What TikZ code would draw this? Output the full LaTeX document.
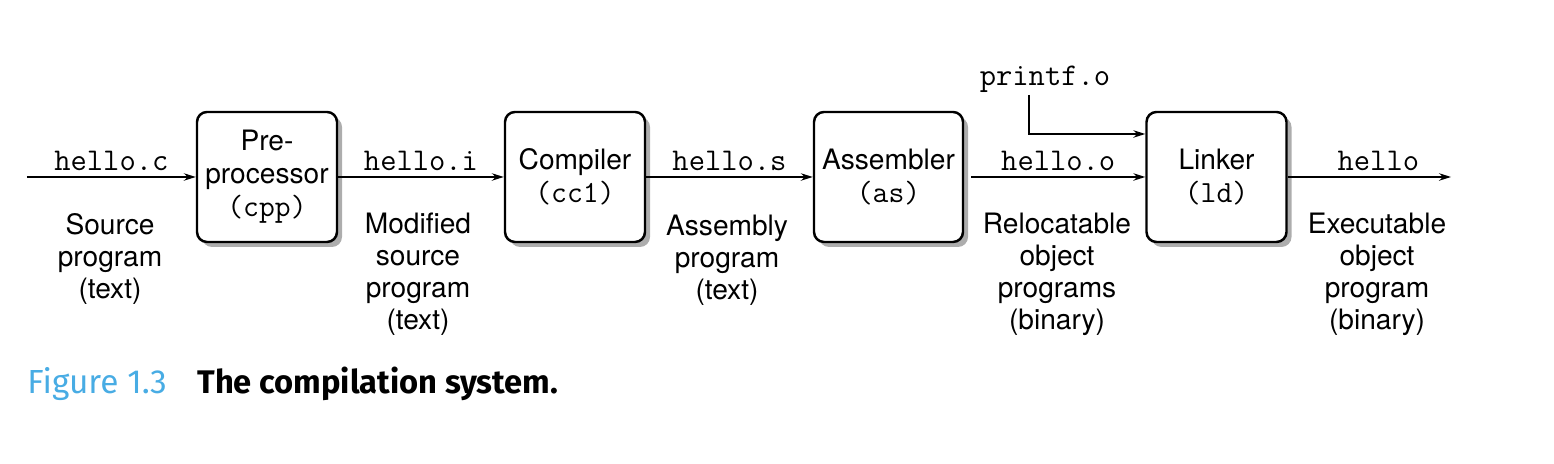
\documentclass[tikz,border=0pt]{standalone}
\usepackage{fontspec}
\setsansfont{TeX Gyre Heros}
\newfontfamily\capfont{Fira Sans}
\usetikzlibrary{arrows.meta, positioning, shadows}
\definecolor{figblue}{RGB}{72,172,228}
\tikzstyle{stage} = [rectangle, draw, line width=1.4pt, rounded corners=0.2cm, fill=white, minimum width=2.8cm, minimum height=2.6cm, align=center, font=\sffamily\fontsize{16}{18.8}\selectfont, drop shadow={shadow xshift=0.1cm, shadow yshift=-0.1cm, fill=black!32, opacity=1}]
\tikzstyle{file} = [font=\ttfamily\fontsize{18}{18}\selectfont]
\tikzstyle{desc} = [align=center, anchor=north, inner sep=0pt, font=\sffamily\fontsize{16}{18.2}\selectfont]
\tikzstyle{arrow} = [line width=0.7pt, ->, >={Stealth[length=2.4mm, width=1.5mm]}]
\begin{document}
\begin{tikzpicture}
    \useasboundingbox (0,0) rectangle (31.08,9.28);
    % Stages
    \node [stage] (cpp) at (5.34,5.74) {Pre-\\processor\\{\ttfamily\fontsize{17.5}{18}\selectfont (cpp)}};
    \node [stage] (cc1) at (11.5,5.74) {Compiler\\{\ttfamily\fontsize{17.5}{18}\selectfont (cc1)}};
    \node [stage, minimum width=2.98cm] (as) at (17.77,5.74) {Assembler\\{\ttfamily\fontsize{17.5}{18}\selectfont (as)}};
    \node [stage] (ld) at (24.33,5.74) {Linker\\{\ttfamily\fontsize{17.5}{18}\selectfont (ld)}};

    % Free ends
    \coordinate (src) at (0.54,5.74);
    \coordinate (out) at (29.02,5.74);
    \coordinate (lib) at (20.58,7.38);
    \node [file, anchor=base] (printf) at (20.9,7.56) {printf.o};

    % Connections
    \draw [arrow] (src) -- node [file, above] (hc) {hello.c} (cpp.west);
    \draw [arrow] (cpp.east) -- node [file, above] (hi) {hello.i} (cc1.west);
    \draw [arrow] (cc1.east) -- node [file, above] (hs) {hello.s} (as.west);
    \draw [arrow] ([xshift=0.14cm]as.east) -- node [file, above] (ho) {hello.o} (ld.west);
    \draw [arrow] (ld.east) -- node [file, above, xshift=0.18cm] (hx) {hello} (out);
    \draw [arrow] (lib) |- ([yshift=0.86cm]ld.west);

    % Descriptions
    \node [desc] (srcdesc) at (2.2,5.02) {Source\\program\\(text)};
    \node [desc] (moddesc) at (8.36,5.02) {Modified\\source\\program\\(text)};
    \node [desc] (asmdesc) at (14.54,4.98) {Assembly\\program\\(text)};
    \node [desc] (objdesc) at (21.14,5.02) {Relocatable\\object\\programs\\(binary)};
    \node [desc] (exedesc) at (27.54,5.02) {Executable\\object\\program\\(binary)};

    % Caption
    \node [anchor=base west, inner sep=0pt, text=figblue, font=\capfont\fontsize{19}{22}\selectfont] (fignum) at (0.54,1.4) {Figure 1.3};
    \node [anchor=base west, inner sep=0pt, font=\capfont\bfseries\fontsize{18.6}{22}\selectfont] (figtitle) at (3.94,1.4) {The compilation system.};
\end{tikzpicture}
\end{document}
